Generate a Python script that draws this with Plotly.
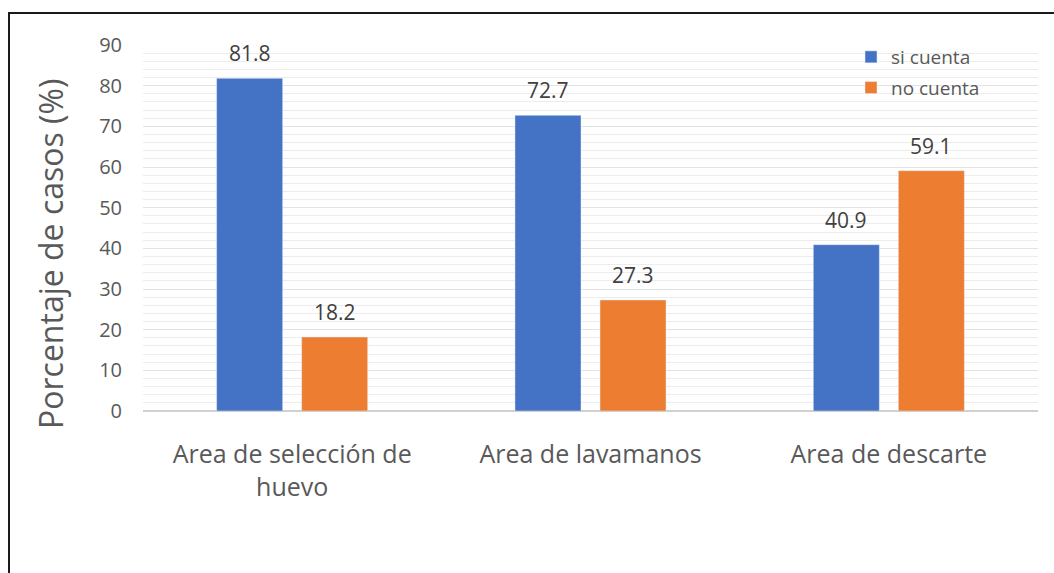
import plotly.graph_objects as go

categories = ["Area de selección de<br>huevo", "Area de lavamanos", "Area de descarte"]
si_cuenta = [81.8, 72.7, 40.9]
no_cuenta = [18.2, 27.3, 59.1]
y_ticks = [0, 10, 20, 30, 40, 50, 60, 70, 80, 90]

FONT = "Open Sans"
GRAY = "#595959"

W, H = 1054, 573
L, R, T, B = 143, 16, 45, 162
PW, PH = W - L - R, H - T - B
BARGAP, GROUPGAP = 0.43, 0.2235


def px_x(px):
    return (px - L) / PW


def px_y(py):
    return (H - B - py) / PH


fig = go.Figure()
series = [("si cuenta", si_cuenta, "#4472C4"), ("no cuenta", no_cuenta, "#ED7D31")]
for name, vals, color in series:
    fig.add_trace(go.Bar(
        name=name, x=categories, y=vals, marker_color=color,
        legendgroup=name,
    ))

# value labels above each bar, shifted to the bar's slot within its group
slot_px = (PW / len(categories)) * (1 - BARGAP) / len(series)
annotations = []
for i, (name, vals, color) in enumerate(series):
    xshift = (i - (len(series) - 1) / 2) * slot_px
    for cat, v in zip(categories, vals):
        annotations.append(dict(
            x=cat, y=v, xref="x", yref="y", text=f"{v:.1f}",
            showarrow=False, yanchor="bottom", xshift=xshift, yshift=9,
            font=dict(family=FONT, size=21, color="#404040"),
        ))

annotations.append(dict(
    text="Porcentaje de casos (%)", textangle=-90,
    x=px_x(50), y=px_y(254), xref="paper", yref="paper",
    xanchor="center", yanchor="middle",
    showarrow=False, font=dict(family=FONT, size=32, color=GRAY),
))

fig.update_layout(
    width=W, height=H,
    margin=dict(l=L, r=R, t=T, b=B, autoexpand=False),
    paper_bgcolor="white", plot_bgcolor="white",
    barmode="group", bargap=BARGAP, bargroupgap=GROUPGAP,
    font=dict(family=FONT, color=GRAY),
    showlegend=True,
    legend=dict(
        x=px_x(851), y=px_y(38), xanchor="left", yanchor="top",
        font=dict(family=FONT, size=19, color=GRAY),
        bgcolor="rgba(0,0,0,0)", itemwidth=30, tracegroupgap=3,
    ),
    xaxis=dict(
        showgrid=False, showline=False, ticks="",
        tickfont=dict(family=FONT, size=25, color=GRAY),
        ticklabelstandoff=26,
    ),
    yaxis=dict(
        range=[0, 90], tickvals=y_ticks,
        showgrid=True, gridcolor="#e3e3e3", gridwidth=1,
        minor=dict(dtick=2, showgrid=True, gridcolor="#ececec", gridwidth=1),
        zeroline=True, zerolinecolor="#d0d0d0", zerolinewidth=1.5,
        showline=False, ticks="",
        tickfont=dict(family=FONT, size=20, color=GRAY),
        ticklabelstandoff=20,
    ),
    annotations=annotations,
    shapes=[dict(
        type="path", xref="paper", yref="paper",
        path=f"M {px_x(9)} {px_y(600)} L {px_x(9)} {px_y(13)} L {px_x(1070)} {px_y(13)}",
        line=dict(color="#1a1a1a", width=2),
    )],
)

fig.write_html("out.html")
